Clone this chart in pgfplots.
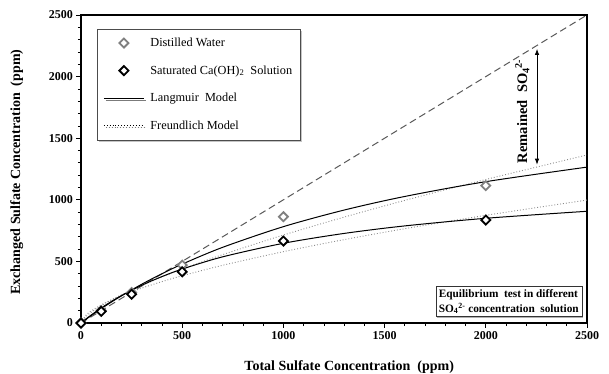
\documentclass[border=0pt]{standalone}
\usepackage{fontspec}
\setmainfont{Liberation Serif}
\usepackage{pgfplots}
\pgfplotsset{compat=1.18}
\usetikzlibrary{shadows,calc,arrows.meta}
\newcommand{\sulf}{SO\textsubscript{4}\textsuperscript{2-}}
\begin{document}
\begin{tikzpicture}
\begin{axis}[
  scale only axis, width=506pt, height=308pt,
  xmin=0, xmax=2500, ymin=0, ymax=2500,
  xtick={0,500,...,2500}, ytick={0,500,...,2500},
  minor tick num=4,
  tick align=outside, xtick pos=bottom, ytick pos=left,
  major tick length=4.5pt, minor tick length=3pt,
  axis line style={line width=1.1pt},
  tick style={black, line width=0.7pt},
  /pgf/number format/assume math mode=true,
  /pgf/number format/set thousands separator={},
  ticklabel style={font=\bfseries\fontsize{12}{14}\selectfont},
  xlabel={Total Sulfate Concentration\ \ (ppm)},
  ylabel={Exchanged Sulfate Concentration\ \ (ppm)},
  label style={font=\bfseries\fontsize{14}{16}\selectfont},
  xlabel style={at={(axis description cs:0.53,-0.11)}, anchor=north},
  ylabel style={at={(axis description cs:-0.107,0.49)}, anchor=south},
  legend style={at={(0.032,0.955)}, anchor=north west, draw=black!70, fill=white,
    drop shadow={shadow xshift=2pt, shadow yshift=-2pt, fill=black!45},
    font=\fontsize{12.3}{14}\selectfont, row sep=13.5pt, inner xsep=6pt, inner ysep=7pt,
    /tikz/every odd column/.append style={column sep=4pt}},
  legend cell align=left,
  legend image code/.code={\draw[mark repeat=2,mark phase=2,#1] plot coordinates {(0pt,0pt) (20pt,0pt) (40pt,0pt)};},
]
\coordinate (ll) at (rel axis cs:0,0);
\coordinate (ur) at (rel axis cs:1,1);
\addlegendimage{only marks, mark=square*, mark size=3.2pt, mark options={rotate=45, draw=black!50, fill=white, line width=1.8pt}}
\addlegendentry{Distilled Water}
\addlegendimage{only marks, mark=square*, mark size=3.2pt, mark options={rotate=45, draw=black, fill=white, line width=1.8pt}}
\addlegendentry{Saturated Ca(OH)\textsubscript{2}\ \ Solution}
\addlegendimage{black, line width=1pt}
\addlegendentry{Langmuir\ \ Model}
\addlegendimage{black, dotted, line width=0.9pt}
\addlegendentry{Freundlich Model}

% y = x reference line
\addplot[forget plot, black!65, line width=1pt, dash pattern=on 7pt off 4pt] coordinates {(0,0) (2500,2500)};

% Freundlich (dotted)
\addplot[forget plot, black!45, dotted, line width=0.9pt, smooth] coordinates {
(0,0) (25,52.7) (50,86.0) (100,140.4) (150,186.9) (200,229.1) (300,305.0) (400,373.8)
(500,437.6) (700,555.0) (1000,714) (1300,859.4) (1600,995.2) (2000,1165) (2500,1364)};
\addplot[forget plot, black!45, dotted, line width=0.9pt, smooth] coordinates {
(0,0) (25,64.7) (50,97.6) (100,147.4) (150,187.6) (200,222.5) (300,283.1) (400,335.9)
(500,383.5) (700,468.4) (1000,579) (1300,676.7) (1600,765.6) (2000,874.1) (2500,998)};

% Langmuir (solid)
\addplot[forget plot, black, line width=1pt, smooth] coordinates {
(0,0) (25,30.3) (50,59.7) (100,116.2) (150,169.8) (200,220.5) (300,314.7) (400,400.1)
(500,477.9) (700,614.4) (1000,782.1) (1300,916.7) (1600,1027.3) (2000,1147.2) (2500,1265.3)};
\addplot[forget plot, black, line width=1pt, smooth] coordinates {
(0,0) (25,33.0) (50,64.2) (100,122.1) (150,174.6) (200,222.3) (300,306.0) (400,376.9)
(500,437.9) (700,537.1) (1000,647.0) (1300,727.1) (1600,788.2) (2000,850.0) (2500,906.9)};

% data
\addplot[forget plot, only marks, mark=square*, mark size=3.2pt, mark options={rotate=45, draw=black!50, fill=white, line width=1.8pt}] coordinates {
(0,0) (100,100) (250,248) (500,470) (1000,863) (2000,1115)};
\addplot[forget plot, only marks, mark=square*, mark size=3.2pt, mark options={rotate=45, draw=black, fill=white, line width=1.8pt}] coordinates {
(0,0) (100,95) (250,233) (500,416) (1000,665) (2000,836)};

% annotations
\draw[{Latex[length=6pt,width=4.5pt]}-{Latex[length=6pt,width=4.5pt]}, line width=0.8pt]
  (axis cs:2253,2225) -- (axis cs:2253,1285);
\node[rotate=90, font=\bfseries\fontsize{14.5}{16}\selectfont] at (axis cs:2180,1720) {Remained\ \ \sulf};
\node[draw=black!80, fill=white, drop shadow={shadow xshift=1.5pt, shadow yshift=-1.5pt, fill=black!60},
  font=\bfseries\fontsize{11.3}{15}\selectfont, align=left, anchor=south east, inner sep=3pt]
  at (rel axis cs:0.99,0.02) {Equilibrium\ \ test in different\\\sulf\ concentration\ \ solution};
\end{axis}
\pgfresetboundingbox
\path[use as bounding box] ($(ll)+(-81pt,-50pt)$) rectangle ($(ur)+(22pt,15pt)$);
\end{tikzpicture}
\end{document}
